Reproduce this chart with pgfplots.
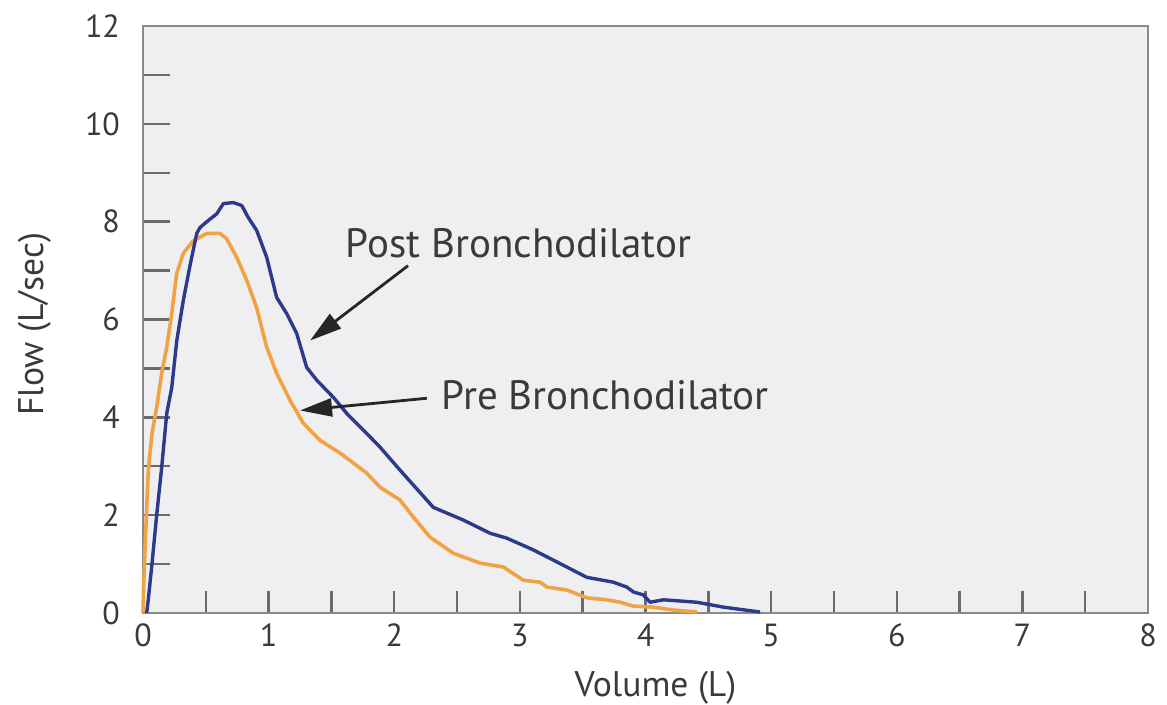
\documentclass[border=0pt]{standalone}
\usepackage{fontspec}
\setmainfont{PT Sans}
\usepackage{pgfplots}
\pgfplotsset{compat=1.18}
\usetikzlibrary{arrows.meta}
\definecolor{postblue}{HTML}{2B3A8A}
\definecolor{preorange}{HTML}{F0A342}
\definecolor{bgpanel}{HTML}{EFEFF1}
\definecolor{axgray}{HTML}{8A8A8A}
\definecolor{tickgray}{HTML}{6A6A6A}
\definecolor{txt}{HTML}{3A3A3A}
\begin{document}
\begin{tikzpicture}
\useasboundingbox (-71.5pt,-46pt) rectangle (512pt,306.5pt);
\begin{axis}[
  at={(0,0)}, anchor=origin,
  scale only axis, width=502.5pt, height=293.5pt,
  xmin=0, xmax=8, ymin=0, ymax=12,
  axis background/.style={fill=bgpanel},
  axis line style={draw=axgray, line width=1.4pt},
  xtick={0,...,8}, ytick={0,2,...,12},
  minor x tick num=1, minor y tick num=1,
  tick align=inside, xtick pos=lower, ytick pos=left,
  tick style={draw=tickgray, line width=1.2pt},
  xtick style={/pgfplots/major tick length=11pt, /pgfplots/minor tick length=11pt},
  ytick style={/pgfplots/major tick length=13.5pt, /pgfplots/minor tick length=13.5pt},
  /pgf/number format/assume math mode=true,
  tick label style={font=\fontsize{16}{18}\selectfont, text=txt},
  xticklabel style={yshift=-2pt},
  yticklabel style={xshift=-8pt},
  xlabel={Volume (L)}, ylabel={Flow (L/sec)},
  every axis x label/.style={at={(axis description cs:0.51,-0.128)}, anchor=center, font=\fontsize{17.8}{20}\selectfont, text=txt},
  every axis y label/.style={at={(axis description cs:-0.1075,0.492)}, anchor=center, rotate=90, font=\fontsize{17.8}{20}\selectfont, text=txt},
  clip=false,
]
\addplot[preorange, line width=1.8pt, line join=round] coordinates {
(0,0) (0.004,0.47) (0.016,1.29) (0.032,2.31) (0.044,2.98) (0.072,3.67)
(0.111,4.24) (0.149,4.90) (0.189,5.43) (0.229,6.12) (0.268,6.94)
(0.321,7.35) (0.400,7.61) (0.507,7.76) (0.613,7.76) (0.666,7.65)
(0.746,7.27) (0.826,6.80) (0.905,6.24) (0.985,5.43) (1.064,4.90)
(1.170,4.35) (1.276,3.88) (1.409,3.53) (1.568,3.27) (1.781,2.86)
(1.887,2.57) (2.046,2.31) (2.152,1.96) (2.285,1.55) (2.471,1.22)
(2.683,1.02) (2.869,0.94) (3.028,0.67) (3.161,0.63) (3.214,0.53)
(3.373,0.47) (3.532,0.31) (3.692,0.27) (3.798,0.22) (3.904,0.14)
(4.063,0.12) (4.222,0.06) (4.408,0.02)
};
\addplot[postblue, line width=1.7pt, line join=round] coordinates {
(0.029,0) (0.042,0.27) (0.069,0.94) (0.109,2.0) (0.149,2.98) (0.189,4.08)
(0.229,4.61) (0.269,5.57) (0.321,6.39) (0.374,7.10) (0.428,7.76)
(0.454,7.88) (0.518,8.02) (0.587,8.16) (0.640,8.37) (0.719,8.39)
(0.786,8.33) (0.839,8.08) (0.905,7.82) (0.985,7.27) (1.064,6.45)
(1.144,6.12) (1.224,5.71) (1.303,5.02) (1.383,4.76) (1.515,4.41)
(1.622,4.08) (1.781,3.67) (1.887,3.39) (2.046,2.92) (2.311,2.16)
(2.550,1.90) (2.763,1.63) (2.896,1.53) (3.107,1.29) (3.267,1.08)
(3.373,0.94) (3.532,0.73) (3.744,0.63) (3.851,0.53) (3.904,0.43)
(3.983,0.37) (4.037,0.22) (4.143,0.27) (4.408,0.22) (4.620,0.12)
(4.912,0.02)
};
\node[font=\fontsize{20.5}{24}\selectfont, text=txt] at (axis cs:2.99,7.55) {Post Bronchodilator};
\node[font=\fontsize{20.5}{24}\selectfont, text=txt] at (axis cs:3.68,4.45) {Pre Bronchodilator};
\draw[line width=1.4pt, -{Triangle[length=16pt,width=9pt]}, black!85] (axis cs:2.11,7.10) -- (axis cs:1.33,5.57);
\draw[line width=1.4pt, -{Triangle[length=16pt,width=9pt]}, black!85] (axis cs:2.26,4.39) -- (axis cs:1.25,4.14);
\end{axis}
\end{tikzpicture}
\end{document}
